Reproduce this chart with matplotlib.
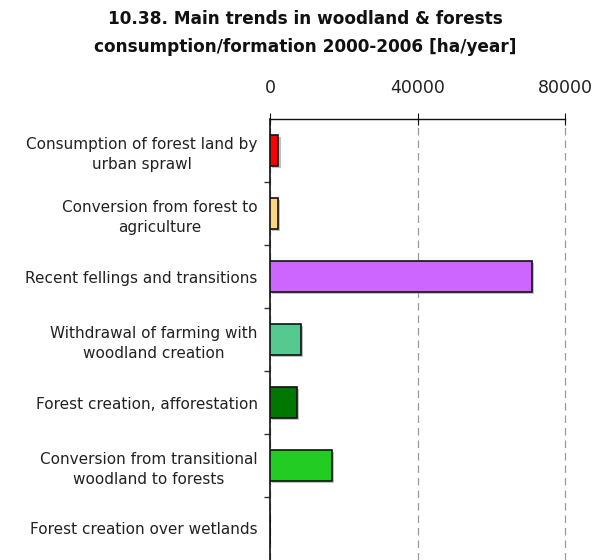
import matplotlib
matplotlib.use("Agg")
import matplotlib.pyplot as plt
import matplotlib.patheffects as pe
import numpy as np

categories = [
    "Consumption of forest land by\nurban sprawl",
    "Conversion from forest to\nagriculture",
    "Recent fellings and transitions",
    "Withdrawal of farming with\nwoodland creation",
    "Forest creation, afforestation",
    "Conversion from transitional\nwoodland to forests",
    "Forest creation over wetlands",
]
values = [2300, 2200, 71000, 8300, 7200, 16900, 0]
colors = ["#FF0000", "#FFD680", "#CC66FF", "#55C98F", "#007700", "#22CC22", "#22CC22"]
xticks = [0, 40000, 80000]
title = "10.38. Main trends in woodland & forests\nconsumption/formation 2000-2006 [ha/year]"

fig = plt.figure(figsize=(6.1, 5.6), dpi=100)
ax = fig.add_axes([270/610, 0.0, 295/610, 1 - 119/560])

y = np.arange(len(categories))
bars = ax.barh(y, values, height=0.48, color=colors, edgecolor="#111111", linewidth=1.2, zorder=3)
for b in bars:
    b.set_path_effects([pe.SimplePatchShadow(offset=(1.5, -1.5), shadow_rgbFace="#999999", alpha=0.6), pe.Normal()])

ax.set_xlim(0, 80000)
ax.set_ylim(len(categories) - 0.5, -0.5)

ax.xaxis.tick_top()
ax.set_xticks(xticks)
ax.set_xticklabels([f"{v}" for v in xticks], fontsize=12.5, color="#222222")
ax.tick_params(axis="x", direction="inout", length=9, width=0.8, pad=11, colors="#111111")
for lab in ax.get_xticklabels():
    lab.set_color("#222222")

ax.set_yticks(y)
ax.set_yticklabels(categories, fontsize=11, linespacing=1.4, color="#222222")
for lab in ax.get_yticklabels():
    lab.set_multialignment("center")
ax.tick_params(axis="y", which="major", length=0, pad=9)
ax.set_yticks(np.arange(len(categories) - 1) + 0.5, minor=True)
ax.tick_params(axis="y", which="minor", length=4, width=1.0, direction="out", color="#333333")

ax.grid(axis="x", linestyle=(0, (6, 4)), color="#999999", linewidth=0.9, zorder=0)
for gl in ax.get_xgridlines():
    gl.set_clip_on(False)
for s in ["right", "bottom"]:
    ax.spines[s].set_visible(False)
ax.spines["left"].set_color("#111111")
ax.spines["left"].set_linewidth(1.2)
ax.spines["top"].set_color("#111111")
ax.spines["top"].set_linewidth(1.0)

fig.text(305/610, 1 - 33/560, title, ha="center", va="center", fontsize=12.2,
         fontweight="bold", linespacing=1.65, color="#111111")

fig.savefig("out.png", dpi=100, facecolor="white")
